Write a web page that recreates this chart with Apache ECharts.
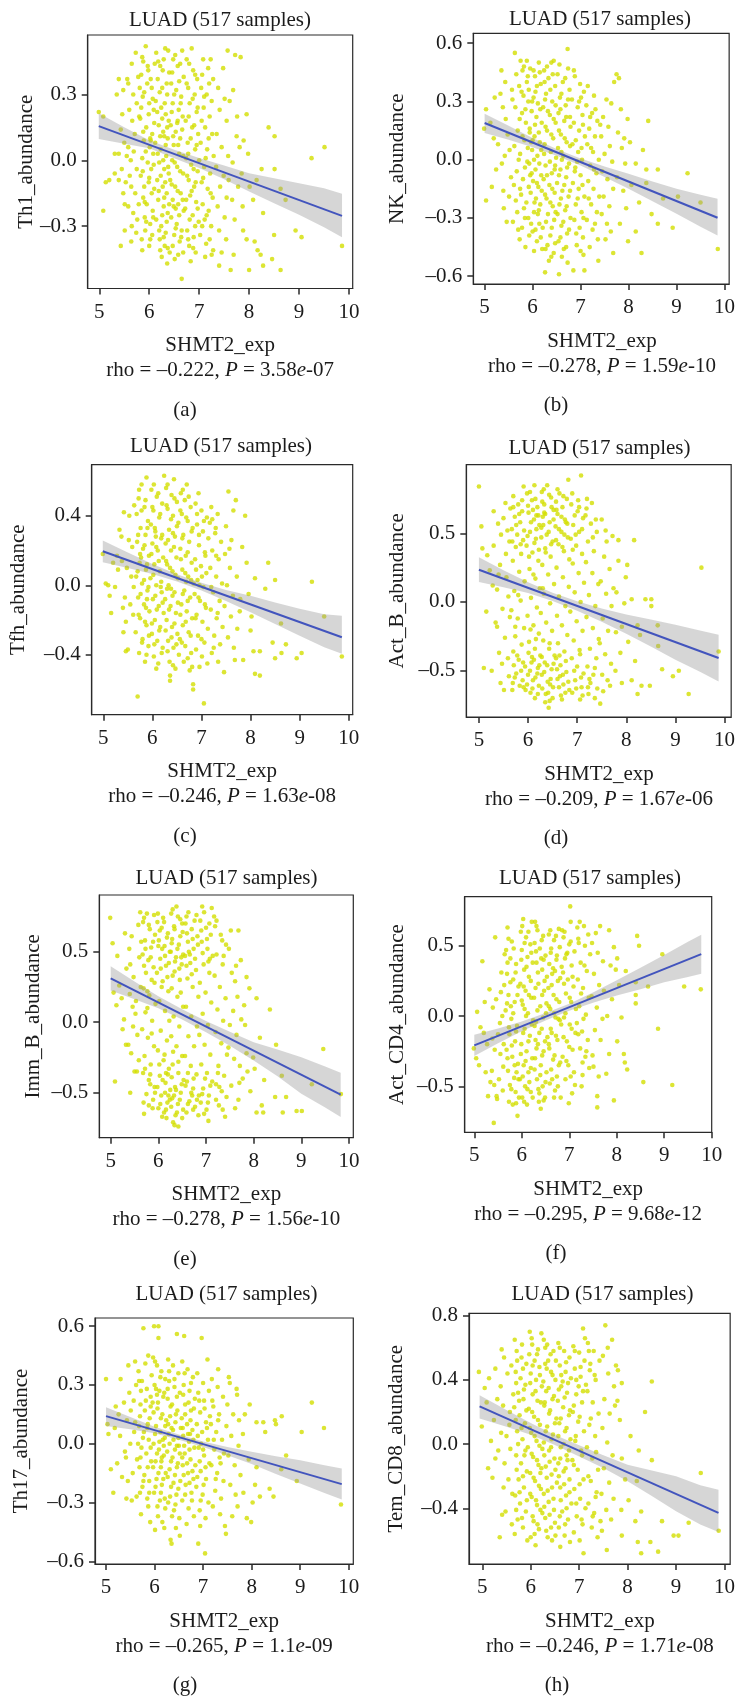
<!DOCTYPE html>
<html>
<head>
<meta charset="utf-8">
<script src="https://cdn.jsdelivr.net/npm/echarts@6/dist/echarts.min.js"></script>
<style>
  html, body { margin: 0; padding: 0; background: #ffffff; }
  #chart { width: 738px; height: 1700px; }
</style>
</head>
<body>
<div id="chart"></div>
<script>
// ---- shared labels ----
const sampleTitle = 'LUAD (517 samples)';
const xAxisName = 'SHMT2_exp';
const xTicks = [5, 6, 7, 8, 9, 10];

// ---- per-panel y tick values ----
const th1YTicks = [-0.3, 0, 0.3];
const nkYTicks = [-0.6, -0.3, 0, 0.3, 0.6];
const tfhYTicks = [-0.4, 0, 0.4];
const actBYTicks = [-0.5, 0, 0.5];
const immBYTicks = [-0.5, 0, 0.5];
const actCD4YTicks = [-0.5, 0, 0.5];
const th17YTicks = [-0.6, -0.3, 0, 0.3, 0.6];
const temCD8YTicks = [-0.4, 0, 0.4, 0.8];

// ---- y axis names, correlation statistics and panel tags ----
const yNames = ['Th1_abundance', 'NK_abundance', 'Tfh_abundance', 'Act_B_abundance',
                'Imm_B_abundance', 'Act_CD4_abundance', 'Th17_abundance', 'Tem_CD8_abundance'];
const rhoValues = ['–0.222', '–0.278', '–0.246', '–0.209', '–0.278', '–0.295', '–0.265', '–0.246'];
const pMantissa = ['3.58', '1.59', '1.63', '1.67', '1.56', '9.68', '1.1', '1.71'];
const pExponent = ['-07', '-10', '-08', '-06', '-10', '-12', '-09', '-08'];
const panelTags = ['(a)', '(b)', '(c)', '(d)', '(e)', '(f)', '(g)', '(h)'];

// ---- samples: [SHMT2 expression, abundance] ----
const th1Points = [
[4.99,0.22],[5.08,0.20],[5.08,-0.23],[5.13,-0.10],[5.20,-0.09],
[5.31,0.03],[5.39,0.03],[5.35,0.30],[5.39,0.37],[5.43,-0.39],[5.31,-0.06],[5.39,-0.09],[5.46,0.21],[5.48,0.32],[5.50,0.08],[5.48,-0.15],[5.51,-0.20],[5.51,-0.32],[5.45,-0.04],[5.53,-0.10],[5.43,0.14],
[5.56,0.37],[5.65,0.44],[5.73,0.49],[5.68,0.30],[5.60,0.23],[5.66,0.18],[5.71,0.12],[5.58,0.06],[5.69,0.04],[5.63,0.00],[5.75,-0.04],[5.61,-0.07],[5.64,-0.12],[5.72,-0.15],[5.58,-0.21],[5.68,-0.24],[5.76,-0.27],[5.65,-0.30],[5.74,-0.33],[5.64,-0.37],[5.58,0.35],[5.78,0.38],[5.75,0.26],[5.80,0.20],[5.79,-0.20],[5.55,0.02],
[5.93,0.52],[5.88,0.45],[5.98,0.41],[5.84,0.39],[5.96,0.35],[6.05,0.33],[5.87,0.29],[6.00,0.26],[6.09,0.23],[5.82,0.19],[5.94,0.15],[6.06,0.12],[5.89,0.09],[6.01,0.06],[6.08,0.03],[5.86,0.01],[5.97,-0.01],[6.04,-0.04],[5.83,-0.07],[5.99,-0.10],[6.10,-0.13],[5.88,-0.17],[5.95,-0.20],[6.07,-0.23],[5.91,-0.26],[6.02,-0.29],[5.92,-0.32],[6.06,-0.34],[5.85,-0.36],[6.00,-0.39],[6.11,0.44],[5.81,0.33],[6.03,0.09],[5.90,-0.12],
[6.32,0.51],[6.38,0.50],[6.14,0.49],[6.22,0.43],[6.29,0.46],[6.40,0.40],[6.17,0.37],[6.26,0.33],[6.36,0.30],[6.13,0.27],[6.24,0.24],[6.33,0.21],[6.39,0.18],[6.19,0.16],[6.28,0.13],[6.37,0.10],[6.12,0.08],[6.23,0.05],[6.34,0.02],[6.20,-0.01],[6.30,-0.04],[6.39,-0.06],[6.16,-0.09],[6.27,-0.12],[6.35,-0.15],[6.18,-0.18],[6.29,-0.21],[6.37,-0.24],[6.14,-0.27],[6.24,-0.30],[6.33,-0.33],[6.21,-0.36],[6.31,-0.39],[6.41,-0.42],[6.25,-0.44],[6.36,-0.47],[6.30,0.11],
[6.66,0.50],[6.48,0.46],[6.57,0.43],[6.69,0.38],[6.44,0.35],[6.54,0.32],[6.64,0.29],[6.47,0.26],[6.59,0.23],[6.67,0.20],[6.43,0.16],[6.53,0.13],[6.62,0.10],[6.49,0.07],[6.60,0.03],[6.46,0.00],[6.56,-0.03],[6.68,-0.06],[6.42,-0.09],[6.52,-0.12],[6.63,-0.15],[6.47,-0.18],[6.58,-0.20],[6.69,-0.23],[6.44,-0.26],[6.55,-0.29],[6.65,-0.32],[6.50,-0.34],[6.61,-0.37],[6.51,-0.45],[6.65,-0.54],[6.68,-0.42],[6.56,0.17],[6.53,-0.22],
[6.85,0.51],[6.75,0.46],[6.88,0.41],[6.96,0.37],[6.78,0.33],[6.91,0.30],[6.81,0.26],[6.95,0.22],[6.73,0.18],[6.86,0.15],[6.98,0.12],[6.77,0.08],[6.92,0.05],[6.74,0.01],[6.84,-0.02],[6.97,-0.05],[6.79,-0.09],[6.90,-0.12],[6.82,-0.16],[6.94,-0.19],[6.72,-0.22],[6.87,-0.25],[6.99,-0.28],[6.76,-0.32],[6.89,-0.35],[6.80,-0.39],[6.93,-0.42],[6.83,-0.46],[7.00,0.00],
[7.08,0.46],[7.18,0.42],[7.28,0.37],[7.04,0.33],[7.15,0.30],[7.25,0.27],[7.09,0.24],[7.21,0.20],[7.12,0.15],[7.26,0.12],[7.03,0.08],[7.16,0.05],[7.29,0.02],[7.10,-0.03],[7.22,-0.06],[7.05,-0.10],[7.17,-0.13],[7.27,-0.17],[7.07,-0.20],[7.19,-0.23],[7.11,-0.27],[7.24,-0.30],[7.02,-0.34],[7.14,-0.38],[7.28,-0.41],[7.12,-0.44],[7.25,-0.43],[7.23,0.46],
[7.48,0.42],[7.57,0.50],[7.38,0.33],[7.51,0.28],[7.41,0.23],[7.55,0.18],[7.35,0.12],[7.45,0.06],[7.58,0.02],[7.34,-0.03],[7.49,-0.07],[7.42,-0.12],[7.55,-0.17],[7.37,-0.21],[7.51,-0.26],[7.40,-0.32],[7.54,-0.36],[7.45,-0.42],[7.40,-0.48],[7.61,0.27],[7.59,-0.09],
[7.72,0.48],[7.83,0.47],[7.68,0.32],[7.75,0.11],[7.81,0.06],[7.67,-0.01],[7.85,-0.06],[7.78,-0.12],[7.66,-0.18],[7.87,-0.21],[7.71,-0.27],[7.69,-0.43],[7.63,-0.50],[7.88,-0.32],[7.76,0.20],[7.89,0.09],
[7.95,0.21],[7.95,-0.36],[8.11,-0.37],[8.17,-0.41],[8.23,-0.43],[8.00,-0.50],[8.25,-0.04],[8.28,-0.24],[8.28,-0.48],[8.01,-0.12],[8.08,-0.18],[7.98,0.03],[8.15,-0.09],[8.39,0.15],[8.51,0.11],[8.51,-0.04],[8.63,-0.13],[8.73,-0.18],[8.50,-0.34],[8.46,-0.45],[8.63,-0.50],[8.93,-0.32],[9.05,-0.35],[9.25,0.01],[9.51,0.06],[9.86,-0.39],
[5.86,0.47],[5.97,0.43],[6.03,0.37],[5.90,0.31],[6.07,0.28],[5.84,0.24],[5.99,0.21],[6.10,0.17],[5.88,0.13],[6.02,0.10],[5.93,0.04],[6.09,-0.02],[5.87,-0.05],[6.00,-0.08],[6.05,-0.15],[5.91,-0.19],[6.08,-0.26],[5.94,-0.28],[6.02,-0.36],[5.86,-0.41],
[6.18,0.45],[6.27,0.41],[6.35,0.35],[6.21,0.31],[6.31,0.26],[6.16,0.22],[6.26,0.19],[6.36,0.15],[6.22,0.11],[6.33,0.07],[6.17,0.03],[6.28,0.00],[6.38,-0.03],[6.23,-0.07],[6.32,-0.10],[6.19,-0.14],[6.30,-0.17],[6.40,-0.20],[6.26,-0.25],[6.35,-0.28],[6.20,-0.32],[6.29,-0.35],[6.37,-0.40],[6.22,-0.41],
[6.52,0.48],[6.62,0.44],[6.46,0.40],[6.60,0.36],[6.50,0.30],[6.63,0.26],[6.45,0.22],[6.57,0.18],[6.66,0.14],[6.48,0.11],[6.58,0.07],[6.68,0.02],[6.51,-0.01],[6.62,-0.05],[6.45,-0.11],[6.57,-0.14],[6.67,-0.18],[6.49,-0.21],[6.60,-0.25],[6.53,-0.31],[6.64,-0.35],[6.47,-0.39],[6.58,-0.43],
[6.80,0.44],[6.92,0.39],[6.75,0.35],[6.87,0.28],[6.97,0.24],[6.79,0.20],[6.90,0.16],[6.83,0.10],[6.95,0.07],[6.78,0.03],[6.89,-0.04],[6.76,-0.07],[6.93,-0.10],[6.85,-0.14],[6.74,-0.18],[6.97,-0.22],[6.81,-0.27],[6.92,-0.30],[6.78,-0.36],[6.88,-0.40],
[7.06,0.39],[7.20,0.35],[7.10,0.29],[7.05,0.18],[7.19,0.10],[7.13,0.01],[7.08,-0.08],[7.23,-0.15],[7.15,-0.25],[7.06,-0.30],[7.21,-0.36]
];

const nkPoints = [
[4.99,0.16],[5.03,0.26],[5.03,-0.21],[5.15,-0.14],[5.28,0.08],[5.21,0.32],[5.12,0.19],[5.24,-0.05],[5.19,0.11],
[5.35,0.46],[5.33,0.34],[5.43,0.40],[5.39,-0.16],[5.40,-0.25],[5.46,-0.32],[5.38,0.27],[5.48,0.13],[5.52,0.05],[5.36,-0.02],[5.55,-0.09],[5.44,0.21],[5.58,0.31],[5.51,-0.19],[5.57,0.36],[5.42,0.02],
[5.63,0.55],[5.75,0.51],[5.88,0.51],[5.59,-0.32],[5.70,-0.36],[5.66,0.44],[5.72,0.38],[5.81,0.33],[5.64,0.27],[5.78,0.24],[5.86,0.19],[5.69,0.15],[5.83,0.10],[5.62,0.07],[5.74,0.03],[5.89,-0.01],[5.67,-0.06],[5.80,-0.10],[5.61,-0.13],[5.76,-0.18],[5.87,-0.22],[5.68,-0.27],[5.84,-0.30],[5.73,-0.41],[5.85,-0.45],[5.79,0.46],[5.65,-0.21],[5.88,0.40],
[6.13,0.50],[5.95,0.47],[6.05,0.43],[6.17,0.39],[5.92,0.36],[6.02,0.32],[6.11,0.29],[5.98,0.25],[6.08,0.22],[6.19,0.19],[5.94,0.16],[6.04,0.12],[6.15,0.09],[5.99,0.05],[6.10,0.02],[5.93,-0.02],[6.06,-0.05],[6.18,-0.08],[6.01,-0.11],[6.12,-0.14],[5.96,-0.17],[6.07,-0.20],[6.16,-0.23],[6.03,-0.27],[5.91,-0.30],[6.14,-0.33],[6.00,-0.37],[6.09,-0.42],[6.20,-0.46],[5.97,0.09],[6.11,-0.28],[6.06,0.35],
[6.26,-0.58],[6.39,0.50],[6.44,0.51],[6.24,0.46],[6.33,0.42],[6.47,0.38],[6.28,0.34],[6.41,0.30],[6.22,0.27],[6.36,0.23],[6.48,0.19],[6.30,0.15],[6.43,0.11],[6.25,0.08],[6.38,0.04],[6.49,0.01],[6.27,-0.03],[6.40,-0.07],[6.23,-0.10],[6.35,-0.13],[6.46,-0.17],[6.29,-0.20],[6.42,-0.24],[6.32,-0.28],[6.45,-0.31],[6.21,-0.35],[6.37,-0.39],[6.31,-0.44],[6.44,-0.48],[6.34,-0.52],[6.26,0.31],[6.47,-0.03],
[6.55,-0.59],[6.73,0.57],[6.74,0.47],[6.73,-0.53],[6.52,0.44],[6.63,0.40],[6.77,0.36],[6.57,0.32],[6.69,0.28],[6.54,0.24],[6.66,0.20],[6.79,0.17],[6.59,0.13],[6.71,0.09],[6.53,0.06],[6.64,0.02],[6.76,-0.02],[6.58,-0.05],[6.70,-0.09],[6.51,-0.12],[6.62,-0.16],[6.75,-0.19],[6.56,-0.23],[6.68,-0.26],[6.79,-0.30],[6.60,-0.34],[6.72,-0.38],[6.54,-0.42],[6.65,-0.46],[6.61,0.00],[6.78,0.22],
[6.85,-0.57],[7.06,-0.49],[7.08,-0.57],[6.88,0.43],[6.99,0.39],[7.07,0.35],[6.82,0.31],[6.94,0.27],[7.04,0.23],[6.86,0.19],[6.97,0.15],[7.09,0.12],[6.83,0.08],[6.95,0.04],[7.03,0.00],[6.89,-0.04],[7.00,-0.08],[6.84,-0.12],[6.96,-0.15],[7.08,-0.19],[6.90,-0.23],[7.02,-0.27],[6.87,-0.31],[6.98,-0.35],[7.05,-0.40],[6.92,-0.44],[7.01,0.32],[6.93,-0.01],
[7.37,-0.52],[7.15,0.38],[7.28,0.33],[7.12,0.28],[7.24,0.24],[7.35,0.20],[7.18,0.16],[7.30,0.12],[7.14,0.08],[7.26,0.04],[7.38,0.00],[7.20,-0.03],[7.33,-0.07],[7.16,-0.11],[7.27,-0.15],[7.39,-0.19],[7.22,-0.23],[7.34,-0.27],[7.13,-0.31],[7.25,-0.36],[7.36,-0.41],[7.19,-0.45],[7.31,0.26],
[7.54,0.31],[7.64,0.29],[7.70,0.40],[7.47,0.22],[7.58,0.17],[7.43,0.12],[7.61,0.07],[7.50,0.03],[7.66,-0.01],[7.45,-0.06],[7.56,-0.10],[7.68,-0.15],[7.48,-0.19],[7.60,-0.24],[7.44,-0.28],[7.55,-0.33],[7.68,-0.48],[7.52,-0.41],[7.63,-0.37],[7.41,0.18],
[7.75,0.44],[7.80,0.42],[7.98,0.21],[7.82,-0.33],[7.99,-0.42],[7.78,0.14],[7.86,0.06],[7.93,-0.02],[7.76,-0.09],[7.89,-0.16],[8.03,0.09],[7.95,-0.25],[7.84,0.26],[8.06,-0.13],[7.91,0.11],
[8.15,-0.02],[8.37,-0.05],[8.61,-0.05],[8.37,-0.12],[8.72,-0.20],[9.03,-0.19],[9.23,-0.07],[9.50,-0.22],[8.92,-0.35],[8.61,-0.33],[8.27,-0.48],[8.15,-0.37],[9.86,-0.46],[8.41,0.20],[8.22,-0.22],[8.48,-0.28],[8.30,0.05],
[5.82,0.48],[5.90,0.43],[5.77,0.35],[5.91,0.30],[5.85,0.26],[5.73,0.21],[5.94,0.14],[5.79,0.12],[5.90,0.06],[5.71,0.00],[5.84,-0.04],[5.95,-0.08],[5.74,-0.15],[5.92,-0.14],[5.82,-0.25],[5.78,-0.35],[5.93,-0.39],
[6.02,0.46],[6.15,0.45],[6.09,0.38],[5.99,0.30],[6.16,0.26],[6.05,0.18],[6.13,0.14],[6.00,0.10],[6.18,0.05],[6.03,0.00],[6.14,-0.02],[5.98,-0.07],[6.09,-0.12],[6.19,-0.16],[6.04,-0.22],[6.13,-0.26],[5.97,-0.33],[6.06,-0.36],[6.17,-0.40],[6.03,-0.47],
[6.30,0.48],[6.42,0.44],[6.25,0.40],[6.37,0.36],[6.48,0.28],[6.32,0.25],[6.44,0.21],[6.27,0.17],[6.39,0.13],[6.24,0.03],[6.36,-0.01],[6.46,-0.05],[6.30,-0.08],[6.41,-0.15],[6.26,-0.18],[6.37,-0.22],[6.48,-0.27],[6.28,-0.32],[6.40,-0.35],[6.47,-0.43],[6.27,-0.46],[6.39,-0.50],
[6.56,0.49],[6.68,0.42],[6.60,0.34],[6.74,0.31],[6.58,0.26],[6.70,0.22],[6.55,0.15],[6.67,0.11],[6.78,0.07],[6.60,0.04],[6.72,-0.04],[6.55,-0.08],[6.66,-0.13],[6.78,-0.16],[6.59,-0.20],[6.71,-0.24],[6.52,-0.28],[6.64,-0.32],[6.76,-0.36],[6.58,-0.40],[6.70,-0.45],[6.61,-0.50],
[6.86,0.46],[6.97,0.30],[7.05,0.18],[6.90,0.10],[7.02,0.06],[6.88,-0.06],[7.04,-0.13],[6.94,-0.20],[7.06,-0.30],[6.91,-0.38],[7.00,-0.47],[7.20,0.22],[7.28,-0.05],[7.17,-0.20],[7.30,-0.33],[7.22,0.06]
];

const tfhPoints = [
[4.99,0.18],[5.05,0.01],[5.10,0.00],[5.16,-0.16],[5.24,-0.01],[5.33,0.32],[5.20,0.13],[5.28,0.17],[5.13,-0.06],[5.30,0.09],
[5.37,0.28],[5.41,-0.27],[5.46,-0.38],[5.50,-0.37],[5.42,0.42],[5.53,0.40],[5.38,0.14],[5.48,0.10],[5.57,0.05],[5.44,-0.07],[5.55,-0.11],[5.61,-0.17],[5.40,-0.13],[5.59,0.22],[5.63,0.46],[5.52,0.26],[5.46,-0.21],[5.62,-0.01],
[5.70,-0.64],[5.78,0.58],[5.88,0.62],[5.72,0.50],[5.84,0.45],[5.68,0.41],[5.91,0.37],[5.76,0.33],[5.86,0.29],[5.69,0.25],[5.81,0.21],[5.93,0.17],[5.74,0.13],[5.87,0.09],[5.67,0.05],[5.79,0.01],[5.90,-0.03],[5.71,-0.07],[5.83,-0.11],[5.94,-0.15],[5.75,-0.19],[5.88,-0.23],[5.66,-0.27],[5.80,-0.31],[5.92,-0.35],[5.73,-0.39],[5.85,-0.44],[5.77,0.16],[5.89,-0.08],
[6.24,0.63],[5.98,0.55],[6.09,0.51],[6.20,0.47],[6.02,0.43],[6.14,0.39],[5.97,0.35],[6.06,0.31],[6.18,0.27],[6.00,0.24],[6.11,0.20],[6.22,0.16],[6.04,0.12],[6.15,0.08],[5.96,0.04],[6.08,0.00],[6.19,-0.04],[6.01,-0.08],[6.13,-0.12],[6.23,-0.16],[6.05,-0.20],[6.16,-0.24],[5.99,-0.28],[6.10,-0.32],[6.21,-0.36],[6.03,-0.41],[6.12,-0.45],[6.07,0.28],[6.17,-0.01],
[6.44,0.61],[6.36,-0.52],[6.28,0.56],[6.39,0.52],[6.50,0.48],[6.31,0.44],[6.42,0.40],[6.53,0.36],[6.34,0.32],[6.46,0.28],[6.27,0.24],[6.38,0.20],[6.49,0.16],[6.30,0.12],[6.41,0.08],[6.52,0.04],[6.33,0.00],[6.45,-0.04],[6.26,-0.08],[6.37,-0.12],[6.48,-0.16],[6.29,-0.20],[6.40,-0.24],[6.51,-0.28],[6.32,-0.32],[6.43,-0.36],[6.54,-0.40],[6.35,-0.44],[6.47,-0.48],[6.42,0.30],[6.38,-0.02],
[6.70,0.58],[6.83,-0.57],[6.83,-0.60],[6.58,0.53],[6.66,0.49],[6.78,0.45],[6.60,0.41],[6.72,0.37],[6.82,0.33],[6.63,0.29],[6.75,0.25],[6.57,0.21],[6.68,0.17],[6.80,0.13],[6.61,0.09],[6.73,0.05],[6.84,0.01],[6.65,-0.03],[6.77,-0.07],[6.59,-0.11],[6.70,-0.15],[6.81,-0.19],[6.62,-0.23],[6.74,-0.27],[6.56,-0.31],[6.67,-0.35],[6.79,-0.39],[6.64,-0.44],[6.76,-0.49],[6.69,0.02],
[6.94,0.53],[7.05,-0.68],[6.88,0.47],[7.00,0.43],[7.11,0.39],[6.91,0.35],[7.03,0.31],[7.14,0.27],[6.95,0.23],[7.07,0.19],[6.87,0.15],[6.99,0.11],[7.10,0.07],[6.92,0.03],[7.04,-0.01],[6.86,-0.05],[6.97,-0.09],[7.09,-0.13],[6.90,-0.17],[7.02,-0.21],[7.13,-0.25],[6.93,-0.29],[7.06,-0.33],[6.89,-0.37],[7.01,-0.41],[7.12,-0.45],[6.96,0.00],
[7.20,0.45],[7.33,0.41],[7.17,0.36],[7.28,0.30],[7.40,0.25],[7.22,0.20],[7.35,0.15],[7.18,0.10],[7.30,0.05],[7.42,0.01],[7.24,-0.04],[7.37,-0.09],[7.19,-0.14],[7.31,-0.19],[7.43,-0.24],[7.26,-0.29],[7.38,-0.34],[7.21,-0.39],[7.34,-0.44],[7.29,0.33],
[7.55,0.54],[7.70,0.49],[7.65,0.43],[7.46,-0.50],[7.68,-0.43],[7.50,0.34],[7.61,0.26],[7.48,0.18],[7.58,0.10],[7.72,0.05],[7.52,0.00],[7.64,-0.06],[7.47,-0.12],[7.60,-0.18],[7.73,-0.25],[7.54,-0.30],[7.66,-0.36],[7.57,0.21],
[7.89,0.40],[7.92,0.13],[8.36,0.13],[8.50,0.03],[8.30,-0.02],[8.09,0.04],[7.96,-0.05],[8.02,-0.18],[7.79,-0.08],[8.62,-0.22],[8.45,-0.33],[8.72,-0.34],[8.63,-0.39],[8.50,-0.42],[8.19,-0.38],[8.09,-0.51],[8.19,-0.52],[8.94,-0.42],[9.04,-0.39],[9.25,0.02],[9.50,-0.18],[9.86,-0.41],[8.06,-0.38],[7.85,-0.43],[7.83,0.22],[8.00,-0.26],[7.78,-0.15],
[5.73,0.55],[5.86,0.49],[5.78,0.43],[5.90,0.33],[5.71,0.29],[5.84,0.23],[5.75,0.18],[5.89,0.12],[5.70,0.08],[5.83,0.03],[5.92,-0.01],[5.76,-0.05],[5.87,-0.13],[5.72,-0.17],[5.85,-0.21],[5.93,-0.29],[5.79,-0.33],[5.88,-0.40],
[6.03,0.58],[6.12,0.53],[6.00,0.45],[6.16,0.41],[6.05,0.33],[6.20,0.29],[6.08,0.22],[5.98,0.18],[6.13,0.14],[6.02,0.06],[6.18,0.02],[6.06,-0.06],[6.21,-0.10],[6.09,-0.14],[5.99,-0.22],[6.14,-0.26],[6.04,-0.34],[6.19,-0.39],[6.08,-0.48],
[6.31,0.58],[6.45,0.50],[6.29,0.46],[6.38,0.38],[6.50,0.34],[6.32,0.26],[6.44,0.22],[6.28,0.14],[6.36,0.10],[6.47,0.06],[6.30,-0.02],[6.41,-0.06],[6.52,-0.10],[6.34,-0.14],[6.45,-0.22],[6.27,-0.26],[6.39,-0.30],[6.49,-0.34],[6.31,-0.38],[6.42,-0.46],[6.36,-0.55],
[6.62,0.55],[6.74,0.51],[6.57,0.43],[6.69,0.39],[6.80,0.31],[6.61,0.27],[6.72,0.19],[6.58,0.15],[6.67,0.07],[6.79,0.03],[6.62,-0.05],[6.72,-0.09],[6.57,-0.17],[6.68,-0.21],[6.78,-0.29],[6.60,-0.33],[6.72,-0.42],[6.81,-0.47],
[6.91,0.41],[7.05,0.37],[6.95,0.29],[7.08,0.17],[6.89,0.09],[7.01,0.05],[6.94,-0.07],[7.07,-0.11],[6.88,-0.19],[7.00,-0.31],[6.96,-0.47],[7.22,0.38],[7.30,0.17],[7.20,-0.01],[7.33,-0.16],[7.25,-0.36]
];

const actBPoints = [
[5.00,0.84],[5.05,0.55],[5.07,0.39],[5.10,-0.48],[5.17,0.34],[5.26,-0.50],[5.30,0.41],[5.30,0.66],[5.34,-0.15],[5.22,0.23],[5.15,-0.07],[5.28,0.12],
[5.37,-0.18],[5.37,0.09],[5.41,-0.37],[5.44,-0.59],[5.47,-0.45],[5.51,-0.64],[5.54,0.72],[5.39,0.57],[5.45,0.49],[5.50,0.61],[5.58,0.52],[5.62,0.44],[5.43,0.27],[5.56,0.18],[5.60,0.04],[5.48,-0.05],[5.63,-0.11],[5.53,-0.26],[5.59,-0.41],[5.40,0.20],[5.61,-0.54],[5.55,0.35],[5.64,0.68],
[5.68,-0.64],[5.91,0.84],[5.95,-0.64],[5.70,0.77],[5.80,0.71],[5.88,0.66],[5.73,0.62],[5.84,0.58],[5.67,0.53],[5.78,0.49],[5.90,0.45],[5.75,0.40],[5.86,0.35],[5.69,0.30],[5.82,0.22],[5.93,0.15],[5.72,0.08],[5.85,0.01],[5.66,-0.06],[5.79,-0.12],[5.92,-0.19],[5.74,-0.25],[5.87,-0.31],[5.70,-0.36],[5.81,-0.42],[5.94,-0.47],[5.76,-0.52],[5.89,-0.57],[5.83,-0.61],[5.71,-0.46],[5.88,0.74],
[6.13,0.85],[6.14,-0.70],[5.98,0.79],[6.08,0.74],[6.19,0.69],[6.01,0.65],[6.12,0.60],[6.23,0.56],[6.04,0.51],[6.16,0.46],[5.97,0.41],[6.09,0.36],[6.21,0.30],[6.03,0.24],[6.15,0.17],[6.24,0.10],[6.06,0.03],[6.18,-0.04],[5.99,-0.10],[6.11,-0.17],[6.22,-0.23],[6.02,-0.29],[6.14,-0.34],[6.25,-0.39],[6.07,-0.44],[6.20,-0.48],[6.00,-0.53],[6.10,-0.57],[6.22,-0.61],[6.05,-0.66],[6.17,0.63],[6.08,-0.40],[6.19,-0.52],
[6.39,0.85],[6.42,-0.77],[6.28,0.80],[6.47,0.76],[6.33,0.71],[6.52,0.67],[6.30,0.62],[6.44,0.58],[6.27,0.54],[6.38,0.49],[6.50,0.44],[6.35,0.39],[6.46,0.33],[6.29,0.27],[6.41,0.20],[6.53,0.13],[6.32,0.06],[6.45,-0.01],[6.26,-0.08],[6.37,-0.15],[6.49,-0.21],[6.31,-0.28],[6.43,-0.34],[6.54,-0.39],[6.34,-0.44],[6.48,-0.49],[6.28,-0.53],[6.40,-0.58],[6.51,-0.62],[6.36,-0.67],[6.44,-0.72],[6.33,0.65],[6.46,-0.56],
[6.64,0.79],[6.82,0.89],[6.79,0.75],[6.57,0.73],[6.70,0.69],[6.60,0.64],[6.75,0.60],[6.56,0.55],[6.68,0.51],[6.81,0.47],[6.62,0.42],[6.73,0.37],[6.84,0.31],[6.58,0.25],[6.71,0.18],[6.83,0.11],[6.63,0.04],[6.76,-0.03],[6.59,-0.10],[6.69,-0.17],[6.80,-0.24],[6.61,-0.30],[6.74,-0.36],[6.57,-0.41],[6.66,-0.46],[6.78,-0.51],[6.60,-0.56],[6.72,-0.60],[6.84,-0.64],[6.67,-0.68],[6.77,0.58],[6.65,-0.54],
[7.08,0.92],[7.06,-0.71],[6.88,0.71],[7.01,0.66],[7.12,0.61],[6.92,0.56],[7.04,0.51],[6.87,0.46],[6.98,0.41],[7.10,0.35],[6.91,0.28],[7.03,0.21],[7.14,0.14],[6.95,0.07],[7.07,0.00],[6.86,-0.07],[6.99,-0.14],[7.11,-0.21],[6.93,-0.28],[7.05,-0.35],[6.89,-0.41],[7.00,-0.47],[7.13,-0.52],[6.96,-0.57],[7.09,-0.62],[6.90,-0.66],[7.02,0.74],
[7.20,0.75],[7.30,0.72],[7.36,-0.70],[7.17,0.63],[7.28,0.57],[7.40,0.51],[7.22,0.44],[7.34,0.37],[7.18,0.29],[7.31,0.21],[7.43,0.13],[7.24,0.05],[7.37,-0.03],[7.19,-0.11],[7.32,-0.19],[7.44,-0.27],[7.26,-0.34],[7.39,-0.41],[7.21,-0.47],[7.33,-0.53],[7.27,-0.59],[7.41,-0.63],[7.23,-0.67],[7.38,0.60],
[7.47,-0.74],[7.50,0.60],[7.60,0.44],[7.72,0.48],[7.53,-0.65],[7.67,-0.61],[7.55,0.33],[7.66,0.24],[7.48,0.15],[7.59,0.06],[7.70,-0.03],[7.52,-0.12],[7.63,-0.21],[7.46,-0.30],[7.57,-0.38],[7.69,-0.45],[7.51,-0.53],[7.62,-0.57],[7.74,0.10],[7.58,0.52],
[7.84,0.45],[8.16,0.45],[7.84,0.30],[7.99,0.18],[7.80,0.07],[8.11,0.02],[8.39,0.02],[8.51,0.02],[8.51,-0.03],[7.96,-0.01],[7.91,-0.18],[8.23,-0.17],[8.28,-0.24],[8.64,-0.17],[8.65,-0.32],[8.04,-0.29],[8.18,-0.43],[7.78,-0.50],[7.91,-0.59],[8.11,-0.57],[8.31,-0.61],[8.23,-0.67],[8.48,-0.61],[8.73,-0.49],[8.95,-0.54],[9.07,-0.50],[9.27,-0.67],[9.53,0.25],[9.88,-0.36],[7.88,-0.37],[8.02,0.27],[7.79,-0.22],
[5.70,0.69],[5.82,0.64],[5.76,0.56],[5.92,0.52],[5.68,0.44],[5.85,0.42],[5.78,-0.39],[5.90,-0.44],[5.73,-0.55],[5.86,-0.50],[5.69,-0.59],[5.91,-0.62],[5.80,0.05],[5.74,-0.18],
[6.04,0.80],[6.15,0.75],[6.00,0.70],[6.10,0.67],[6.21,0.63],[6.06,0.58],[6.17,0.53],[5.99,0.48],[6.13,0.43],[6.22,0.38],[6.02,0.33],[6.11,0.20],[6.05,-0.20],[6.16,-0.27],[6.01,-0.37],[6.12,-0.42],[6.23,-0.46],[6.04,-0.50],[6.15,-0.55],[5.98,-0.60],[6.09,-0.63],[6.20,-0.67],
[6.32,0.82],[6.43,0.78],[6.29,0.73],[6.48,0.69],[6.35,0.64],[6.52,0.60],[6.31,0.56],[6.42,0.51],[6.27,0.47],[6.47,0.42],[6.36,0.36],[6.30,0.10],[6.44,-0.30],[6.28,-0.40],[6.39,-0.46],[6.52,-0.45],[6.33,-0.51],[6.45,-0.60],[6.29,-0.63],[6.41,-0.66],[6.50,-0.70],[6.35,-0.73],
[6.60,0.82],[6.72,0.77],[6.58,0.67],[6.68,0.62],[6.80,0.57],[6.63,0.53],[6.74,0.49],[6.57,0.45],[6.70,0.40],[6.64,-0.39],[6.77,-0.43],[6.59,-0.49],[6.71,-0.53],[6.82,-0.58],[6.63,-0.62],[6.76,-0.66],[6.69,-0.71],
[6.90,0.79],[7.04,0.69],[6.95,0.63],[7.10,0.53],[6.97,0.49],[6.91,0.38],[7.06,-0.38],[6.94,-0.50],[7.08,-0.55],[6.98,-0.63],[7.11,-0.68],[7.19,0.68],[7.32,0.47],[7.25,-0.56],[7.36,-0.48],[7.22,-0.62]
];

const immBPoints = [
[4.99,0.74],[5.04,0.56],[5.06,0.21],[5.09,-0.42],[5.14,0.47],[5.23,0.17],[5.28,0.02],[5.30,0.63],[5.32,-0.16],[5.18,0.26],[5.25,-0.05],[5.12,0.12],[5.33,0.38],
[5.37,-0.16],[5.41,-0.50],[5.41,0.41],[5.44,0.61],[5.48,0.32],[5.50,-0.35],[5.55,-0.35],[5.62,0.78],[5.39,0.52],[5.46,0.11],[5.52,0.06],[5.58,0.69],[5.60,0.46],[5.43,-0.22],[5.56,-0.09],[5.63,0.25],[5.53,0.15],[5.59,-0.27],[5.47,-0.03],[5.64,0.57],[5.40,0.20],
[5.70,-0.65],[5.76,0.77],[5.91,0.76],[5.88,-0.61],[5.68,0.71],[5.82,0.66],[5.93,0.62],[5.72,0.58],[5.85,0.53],[5.67,0.48],[5.79,0.44],[5.90,0.39],[5.74,0.35],[5.86,0.30],[5.69,0.24],[5.81,0.19],[5.94,0.13],[5.73,0.07],[5.87,0.01],[5.66,-0.05],[5.78,-0.11],[5.91,-0.17],[5.71,-0.24],[5.84,-0.30],[5.68,-0.36],[5.80,-0.41],[5.92,-0.46],[5.75,-0.51],[5.89,-0.55],[5.83,-0.37],[5.77,0.10],
[6.10,0.74],[6.17,-0.68],[5.98,0.71],[6.07,0.67],[6.20,0.63],[6.01,0.58],[6.13,0.54],[6.24,0.50],[6.04,0.45],[6.16,0.40],[5.97,0.35],[6.09,0.29],[6.21,0.22],[6.02,0.15],[6.14,0.08],[6.23,0.01],[6.05,-0.06],[6.18,-0.13],[5.99,-0.20],[6.11,-0.27],[6.22,-0.33],[6.03,-0.38],[6.15,-0.43],[6.25,-0.48],[6.06,-0.52],[6.19,-0.57],[6.00,-0.61],[6.12,-0.64],[6.08,0.52],[6.16,-0.36],[6.21,-0.52],
[6.38,0.82],[6.42,-0.74],[6.31,-0.71],[6.27,0.77],[6.46,0.73],[6.33,0.68],[6.51,0.64],[6.29,0.59],[6.43,0.55],[6.26,0.50],[6.37,0.46],[6.49,0.41],[6.34,0.36],[6.45,0.30],[6.28,0.24],[6.40,0.18],[6.52,0.11],[6.32,0.04],[6.44,-0.03],[6.27,-0.10],[6.38,-0.17],[6.50,-0.24],[6.30,-0.30],[6.42,-0.36],[6.53,-0.41],[6.35,-0.46],[6.47,-0.50],[6.29,-0.54],[6.41,-0.58],[6.52,-0.62],[6.36,-0.66],[6.48,0.46],[6.33,-0.52],
[6.59,0.75],[6.80,0.76],[6.57,0.70],[6.70,0.66],[6.82,0.61],[6.62,0.57],[6.74,0.52],[6.56,0.47],[6.67,0.42],[6.79,0.37],[6.61,0.31],[6.72,0.25],[6.84,0.18],[6.58,0.11],[6.69,0.04],[6.81,-0.03],[6.63,-0.10],[6.75,-0.17],[6.56,-0.24],[6.68,-0.31],[6.80,-0.37],[6.60,-0.42],[6.73,-0.47],[6.85,-0.52],[6.65,-0.56],[6.77,-0.60],[6.59,-0.64],[6.71,-0.52],[6.66,0.48],
[6.92,0.82],[7.12,0.81],[7.05,-0.70],[6.88,0.72],[7.00,0.67],[7.10,0.62],[6.91,0.57],[7.03,0.52],[7.14,0.47],[6.95,0.41],[7.07,0.35],[6.87,0.28],[6.99,0.21],[7.11,0.14],[6.93,0.06],[7.04,-0.02],[6.86,-0.09],[6.97,-0.16],[7.09,-0.23],[6.90,-0.30],[7.02,-0.36],[7.13,-0.42],[6.94,-0.47],[7.06,-0.52],[6.89,-0.57],[7.01,-0.62],[7.08,0.45],
[7.17,0.75],[7.40,-0.67],[7.43,-0.53],[7.19,0.68],[7.31,0.62],[7.42,0.55],[7.22,0.48],[7.35,0.41],[7.18,0.33],[7.29,0.25],[7.41,0.17],[7.24,0.09],[7.36,0.01],[7.20,-0.07],[7.32,-0.15],[7.44,-0.23],[7.26,-0.31],[7.38,-0.38],[7.21,-0.44],[7.33,-0.49],[7.27,-0.59],[7.37,0.47],[7.25,-0.36],
[7.52,0.65],[7.68,0.65],[7.54,0.35],[7.61,0.29],[7.73,0.44],[7.66,0.18],[7.71,-0.31],[7.68,-0.55],[7.61,-0.61],[7.48,0.52],[7.57,0.08],[7.50,-0.02],[7.64,-0.09],[7.47,-0.18],[7.59,-0.26],[7.70,-0.43],[7.53,-0.45],[7.63,0.40],[7.74,0.02],
[7.85,0.32],[7.82,-0.02],[8.06,0.17],[8.13,-0.11],[8.34,0.09],[7.85,-0.22],[7.99,-0.25],[7.87,-0.35],[7.77,-0.40],[8.22,-0.41],[8.17,-0.59],[8.20,-0.64],[8.06,-0.64],[8.47,-0.16],[8.59,-0.38],[8.45,-0.53],[8.61,-0.64],[8.68,-0.53],[8.90,-0.63],[9.01,-0.63],[9.22,-0.44],[9.46,-0.19],[9.83,-0.51],[7.93,-0.49],[7.80,0.12],[8.02,-0.33],[7.91,0.24],
[5.70,0.74],[5.80,0.69],[5.89,0.57],[5.73,0.52],[5.84,0.46],[5.70,0.40],[5.92,0.28],[5.77,0.22],[5.86,-0.08],[5.72,-0.33],[5.83,-0.44],[5.93,-0.50],[5.69,-0.57],[5.80,-0.59],
[5.99,0.77],[6.12,0.71],[6.03,0.65],[6.18,0.60],[6.00,0.54],[6.14,0.47],[6.22,0.42],[6.05,0.38],[6.19,0.32],[6.07,0.25],[6.13,-0.23],[6.02,-0.30],[6.20,-0.37],[6.09,-0.41],[5.98,-0.46],[6.14,-0.50],[6.24,-0.55],[6.04,-0.58],[6.16,-0.62],[6.08,-0.67],
[6.30,0.80],[6.41,0.75],[6.50,0.70],[6.34,0.66],[6.46,0.61],[6.28,0.56],[6.40,0.52],[6.52,0.48],[6.35,0.43],[6.44,0.38],[6.30,0.33],[6.47,0.21],[6.31,-0.21],[6.42,-0.28],[6.28,-0.39],[6.49,-0.44],[6.37,-0.48],[6.45,-0.55],[6.27,-0.60],[6.39,-0.64],[6.50,-0.68],[6.34,-0.73],
[6.63,0.78],[6.76,0.72],[6.60,0.63],[6.72,0.59],[6.83,0.55],[6.64,0.50],[6.77,0.45],[6.59,0.40],[6.70,0.34],[6.62,-0.36],[6.74,-0.40],[6.57,-0.45],[6.69,-0.50],[6.81,-0.55],[6.62,-0.58],[6.73,-0.62],[6.84,-0.66],
[6.96,0.78],[7.07,0.70],[6.90,0.65],[7.02,0.59],[6.93,0.49],[7.05,0.43],[6.98,-0.40],[7.09,-0.45],[6.92,-0.51],[7.04,-0.57],[6.96,-0.65],[7.22,0.72],[7.34,0.58],[7.28,-0.46],[7.21,-0.55],[7.35,-0.62]
];

const actCD4Points = [
[4.99,-0.23],[5.04,-0.30],[5.06,0.03],[5.10,-0.35],[5.17,0.39],[5.24,-0.40],[5.29,-0.57],[5.32,0.19],[5.20,-0.12],[5.27,-0.20],[5.13,-0.08],[5.34,-0.47],[5.22,0.10],
[5.39,0.06],[5.41,-0.76],[5.44,0.56],[5.48,-0.59],[5.52,-0.45],[5.55,-0.27],[5.59,0.00],[5.63,0.22],[5.37,-0.39],[5.42,-0.49],[5.46,0.12],[5.50,-0.13],[5.57,0.31],[5.61,-0.36],[5.43,-0.24],[5.54,-0.05],[5.60,-0.53],[5.64,0.44],[5.47,-0.57],[5.56,0.17],[5.38,-0.16],[5.62,-0.20],
[5.70,0.63],[5.73,-0.61],[5.79,0.53],[5.91,-0.71],[5.67,0.47],[5.76,0.41],[5.88,0.37],[5.69,0.30],[5.82,0.26],[5.93,0.21],[5.72,0.15],[5.85,0.10],[5.66,0.04],[5.78,-0.02],[5.90,-0.07],[5.74,-0.13],[5.86,-0.18],[5.68,-0.24],[5.80,-0.29],[5.92,-0.34],[5.71,-0.39],[5.84,-0.44],[5.75,-0.49],[5.87,-0.54],[5.81,-0.63],[5.94,-0.58],[5.77,0.07],[5.89,-0.40],
[6.03,0.69],[6.21,0.67],[5.98,0.60],[6.09,0.56],[6.18,0.51],[6.00,0.47],[6.12,0.42],[6.23,0.38],[6.05,0.33],[6.15,0.28],[5.97,0.23],[6.08,0.18],[6.20,0.13],[6.02,0.08],[6.13,0.02],[6.24,-0.03],[6.06,-0.09],[6.17,-0.14],[5.99,-0.20],[6.10,-0.25],[6.22,-0.30],[6.04,-0.35],[6.14,-0.40],[5.96,-0.45],[6.07,-0.50],[6.19,-0.54],[6.01,-0.58],[6.11,-0.63],[6.16,-0.47],[6.06,0.05],
[6.28,0.67],[6.36,-0.61],[6.40,-0.66],[6.33,0.61],[6.45,0.57],[6.27,0.52],[6.38,0.48],[6.50,0.43],[6.31,0.38],[6.43,0.33],[6.53,0.28],[6.35,0.23],[6.47,0.18],[6.26,0.13],[6.39,0.07],[6.51,0.02],[6.30,-0.04],[6.42,-0.09],[6.54,-0.15],[6.34,-0.20],[6.46,-0.25],[6.28,-0.30],[6.40,-0.35],[6.52,-0.40],[6.32,-0.45],[6.44,-0.50],[6.37,-0.55],[6.49,-0.58],[6.41,0.41],[6.29,-0.17],
[6.78,0.62],[6.85,0.61],[6.57,0.58],[6.68,0.54],[6.80,0.49],[6.61,0.45],[6.73,0.40],[6.84,0.35],[6.64,0.30],[6.76,0.25],[6.56,0.20],[6.67,0.15],[6.79,0.10],[6.60,0.05],[6.71,-0.01],[6.83,-0.06],[6.63,-0.12],[6.75,-0.17],[6.58,-0.23],[6.69,-0.28],[6.81,-0.33],[6.62,-0.38],[6.74,-0.43],[6.59,-0.48],[6.70,-0.53],[6.82,-0.58],[6.66,0.34],[6.77,-0.02],
[7.02,0.78],[7.03,0.67],[6.99,-0.62],[7.12,-0.49],[6.88,0.56],[7.00,0.51],[7.11,0.46],[6.91,0.41],[7.05,0.36],[6.87,0.31],[6.97,0.26],[7.09,0.21],[6.93,0.16],[7.04,0.10],[7.14,0.05],[6.89,-0.01],[7.01,-0.06],[7.13,-0.12],[6.95,-0.18],[7.07,-0.24],[6.86,-0.29],[6.98,-0.35],[7.10,-0.40],[6.92,-0.45],[7.06,-0.55],[6.96,0.45],
[7.22,0.67],[7.17,0.63],[7.31,0.64],[7.28,-0.42],[7.42,-0.37],[7.19,0.55],[7.33,0.50],[7.44,0.44],[7.24,0.38],[7.37,0.32],[7.18,0.26],[7.29,0.20],[7.41,0.13],[7.21,0.07],[7.35,0.01],[7.16,-0.05],[7.27,-0.11],[7.39,-0.17],[7.23,-0.23],[7.34,-0.29],[7.26,-0.50],[7.40,0.58],[7.30,-0.02],
[7.56,0.59],[7.65,0.64],[7.59,-0.65],[7.59,-0.57],[7.49,-0.28],[7.48,0.52],[7.60,0.45],[7.71,0.39],[7.52,0.30],[7.63,0.22],[7.47,0.14],[7.58,0.06],[7.70,-0.02],[7.54,-0.10],[7.66,-0.17],[7.51,-0.36],[7.73,0.18],[7.62,-0.43],
[7.84,0.61],[7.94,0.49],[8.01,0.41],[7.98,0.33],[7.87,0.36],[8.19,0.32],[8.43,0.57],[8.47,0.50],[8.66,0.21],[8.40,0.24],[8.40,0.15],[8.15,-0.27],[8.17,-0.33],[8.22,-0.38],[7.94,-0.60],[7.84,-0.27],[8.01,-0.18],[7.80,0.00],[8.10,-0.01],[8.40,0.09],[8.87,-0.09],[8.56,-0.47],[8.96,0.44],[9.17,-0.49],[9.42,0.21],[9.77,0.19],[7.90,0.12],[8.05,0.22],[7.78,-0.41],
[5.72,0.55],[5.83,0.48],[5.70,0.38],[5.87,0.31],[5.76,0.24],[5.91,0.15],[5.69,0.09],[5.82,0.02],[5.73,-0.08],[5.88,-0.11],[5.79,-0.21],[5.70,-0.30],[5.85,-0.35],[5.93,-0.45],[5.78,-0.52],[5.88,-0.62],
[6.01,0.64],[6.14,0.60],[6.06,0.52],[6.20,0.45],[5.99,0.40],[6.10,0.35],[6.19,0.25],[6.04,0.21],[6.15,0.15],[6.00,0.11],[6.09,0.00],[6.21,-0.06],[6.03,-0.12],[6.14,-0.18],[5.98,-0.27],[6.08,-0.32],[6.19,-0.37],[6.02,-0.43],[6.12,-0.52],[6.23,-0.58],[6.05,-0.61],
[6.31,0.64],[6.42,0.54],[6.30,0.46],[6.46,0.40],[6.34,0.31],[6.48,0.25],[6.29,0.20],[6.43,0.15],[6.52,0.09],[6.33,0.04],[6.45,-0.01],[6.27,-0.07],[6.37,-0.12],[6.49,-0.18],[6.31,-0.23],[6.43,-0.28],[6.27,-0.38],[6.39,-0.42],[6.50,-0.47],[6.35,-0.52],[6.46,-0.60],
[6.60,0.61],[6.72,0.57],[6.62,0.48],[6.74,0.43],[6.58,0.37],[6.70,0.32],[6.81,0.27],[6.63,0.22],[6.73,0.12],[6.57,0.07],[6.68,0.02],[6.80,-0.03],[6.61,-0.09],[6.72,-0.14],[6.57,-0.20],[6.66,-0.31],[6.78,-0.35],[6.64,-0.45],[6.76,-0.50],[6.68,-0.58],
[6.90,0.60],[7.03,0.53],[6.94,0.44],[7.07,0.28],[6.89,0.23],[7.01,0.13],[6.92,0.02],[7.05,-0.09],[6.88,-0.15],[7.00,-0.22],[6.94,-0.32],[7.03,-0.43],[7.20,0.52],[7.32,0.36],[7.25,0.16],[7.19,-0.13],[7.36,-0.25],[7.28,-0.33]
];

const th17Points = [
[5.00,0.33],[5.03,0.10],[5.05,0.05],[5.10,-0.13],[5.15,-0.25],[5.23,-0.10],[5.30,0.33],[5.29,0.04],[5.20,0.19],[5.26,0.15],[5.33,-0.17],[5.18,0.08],
[5.39,-0.04],[5.41,-0.07],[5.46,0.40],[5.48,0.26],[5.55,-0.15],[5.60,0.42],[5.63,-0.27],[5.37,0.21],[5.43,0.12],[5.51,0.17],[5.58,0.06],[5.62,0.30],[5.45,-0.19],[5.53,-0.29],[5.57,0.22],[5.64,-0.08],[5.50,0.00],[5.60,0.11],[5.42,-0.28],
[5.70,-0.25],[5.77,0.59],[5.87,0.45],[5.87,-0.32],[5.67,0.37],[5.74,0.32],[5.84,0.28],[5.92,0.24],[5.71,0.20],[5.80,0.17],[5.90,0.13],[5.68,0.09],[5.78,0.06],[5.88,0.02],[5.73,-0.02],[5.83,-0.05],[5.93,-0.09],[5.69,-0.12],[5.79,-0.16],[5.89,-0.19],[5.75,-0.22],[5.85,-0.28],[5.72,-0.36],[5.91,-0.40],[5.81,0.41],[5.94,0.35],[5.66,0.00],[5.86,0.10],
[5.99,0.60],[6.08,0.60],[6.08,0.54],[6.01,-0.44],[6.20,-0.43],[5.97,0.44],[6.05,0.40],[6.14,0.37],[6.22,0.33],[6.00,0.30],[6.10,0.27],[6.18,0.24],[5.96,0.21],[6.06,0.18],[6.16,0.15],[6.24,0.12],[6.03,0.09],[6.12,0.06],[6.21,0.03],[5.98,0.00],[6.09,-0.03],[6.19,-0.06],[6.02,-0.09],[6.13,-0.12],[6.23,-0.15],[6.04,-0.18],[6.15,-0.21],[5.99,-0.25],[6.11,-0.29],[6.22,-0.33],[6.07,-0.37],[6.17,0.02],[6.05,0.25],[6.14,-0.09],
[6.33,-0.49],[6.35,-0.51],[6.46,0.56],[6.52,-0.47],[6.28,0.43],[6.38,0.40],[6.49,0.36],[6.30,0.32],[6.41,0.29],[6.52,0.26],[6.27,0.23],[6.36,0.20],[6.47,0.17],[6.32,0.14],[6.43,0.11],[6.54,0.08],[6.29,0.05],[6.39,0.02],[6.50,-0.01],[6.26,-0.04],[6.37,-0.07],[6.48,-0.10],[6.31,-0.13],[6.42,-0.16],[6.53,-0.19],[6.34,-0.22],[6.45,-0.26],[6.28,-0.30],[6.40,-0.34],[6.51,-0.38],[6.44,-0.43],[6.35,0.08],[6.46,-0.01],
[6.61,0.55],[6.57,0.42],[6.68,0.38],[6.79,0.34],[6.60,0.30],[6.72,0.27],[6.83,0.23],[6.63,0.20],[6.75,0.17],[6.56,0.13],[6.67,0.10],[6.78,0.07],[6.59,0.04],[6.71,0.01],[6.82,-0.02],[6.62,-0.05],[6.74,-0.08],[6.58,-0.11],[6.69,-0.15],[6.80,-0.18],[6.64,-0.21],[6.76,-0.25],[6.57,-0.29],[6.70,-0.33],[6.81,-0.37],[6.66,-0.41],[6.73,0.05],[6.84,-0.11],
[6.97,0.54],[6.90,-0.51],[6.94,-0.42],[7.04,-0.56],[7.09,0.43],[6.88,0.36],[7.00,0.31],[7.12,0.27],[6.92,0.22],[7.03,0.18],[7.14,0.14],[6.87,0.10],[6.98,0.06],[7.10,0.02],[6.91,-0.02],[7.02,-0.06],[7.13,-0.10],[6.95,-0.14],[7.06,-0.18],[6.86,-0.22],[6.99,-0.26],[7.11,-0.30],[6.93,-0.34],[7.05,-0.38],[7.08,0.08],[6.96,0.00],
[7.35,-0.36],[7.45,-0.42],[7.18,0.33],[7.30,0.29],[7.41,0.24],[7.21,0.19],[7.33,0.15],[7.16,0.10],[7.27,0.06],[7.39,0.02],[7.23,-0.03],[7.34,-0.07],[7.17,-0.11],[7.29,-0.15],[7.42,-0.19],[7.25,-0.24],[7.37,-0.28],[7.20,-0.32],[7.31,0.38],[7.43,-0.05],
[7.47,-0.46],[7.55,0.31],[7.69,0.28],[7.70,0.25],[7.71,-0.32],[7.50,0.20],[7.62,0.15],[7.48,0.09],[7.58,0.04],[7.73,-0.01],[7.52,-0.06],[7.65,-0.11],[7.77,-0.16],[7.56,-0.21],[7.67,-0.26],[7.60,-0.37],[7.74,0.12],[7.53,0.34],
[7.99,-0.40],[7.90,-0.38],[7.86,0.15],[8.10,0.11],[8.24,0.11],[8.28,0.06],[8.10,-0.12],[8.37,-0.23],[8.17,-0.27],[8.07,-0.21],[7.83,-0.25],[8.45,-0.27],[8.48,0.12],[8.50,0.10],[8.62,0.14],[8.71,-0.06],[8.61,-0.13],[8.93,-0.19],[9.03,0.06],[9.24,0.21],[9.49,0.08],[9.84,-0.31],[7.94,-0.08],[7.82,0.05],[8.02,-0.30],[7.96,0.20],
[5.72,0.27],[5.82,0.22],[5.70,0.14],[5.85,0.08],[5.76,0.03],[5.92,-0.02],[5.71,-0.07],[5.86,-0.12],[5.77,-0.19],[5.89,-0.25],[5.68,0.32],[5.92,0.19],
[6.01,0.42],[6.12,0.34],[6.03,0.28],[6.20,0.26],[6.07,0.21],[5.98,0.16],[6.13,0.13],[6.22,0.09],[6.01,0.05],[6.10,0.01],[6.19,-0.01],[6.05,-0.05],[6.15,-0.07],[5.97,-0.12],[6.08,-0.15],[6.18,-0.18],[6.02,-0.22],[6.13,-0.25],[6.21,-0.28],[6.06,-0.32],[6.16,-0.40],
[6.30,0.37],[6.41,0.33],[6.27,0.28],[6.46,0.24],[6.33,0.19],[6.44,0.15],[6.28,0.10],[6.38,0.07],[6.49,0.03],[6.31,0.00],[6.42,-0.03],[6.52,-0.05],[6.34,-0.09],[6.46,-0.12],[6.27,-0.17],[6.39,-0.20],[6.49,-0.23],[6.32,-0.27],[6.43,-0.31],[6.36,-0.37],
[6.62,0.36],[6.75,0.31],[6.59,0.25],[6.70,0.21],[6.81,0.18],[6.63,0.15],[6.74,0.12],[6.58,0.08],[6.69,0.05],[6.80,0.02],[6.61,-0.01],[6.72,-0.03],[6.57,-0.07],[6.67,-0.10],[6.78,-0.14],[6.60,-0.16],[6.72,-0.20],[6.63,-0.26],[6.77,-0.29],
[6.90,0.26],[7.02,0.22],[6.94,0.16],[7.06,0.11],[6.89,0.04],[7.00,-0.03],[6.93,-0.09],[7.05,-0.12],[6.88,-0.17],[7.01,-0.21],[6.95,-0.29],[7.19,0.22],[7.31,0.12],[7.22,0.02],[7.36,-0.10],[7.26,-0.18]
];

const temCD8Points = [
[4.93,0.45],[4.99,0.11],[5.05,0.35],[5.12,-0.15],[5.24,0.15],[5.27,0.47],[5.27,-0.09],[5.09,0.26],[5.18,0.02],[5.31,0.28],[5.21,-0.21],[5.14,0.41],[5.33,-0.04],
[5.36,-0.58],[5.40,0.59],[5.41,-0.44],[5.45,0.54],[5.48,-0.42],[5.38,0.36],[5.43,0.24],[5.52,0.44],[5.56,0.12],[5.60,0.49],[5.46,-0.12],[5.54,-0.22],[5.62,-0.31],[5.50,0.05],[5.58,-0.03],[5.64,0.31],[5.44,-0.27],[5.57,0.20],[5.39,0.07],[5.61,-0.50],
[5.67,0.65],[5.67,-0.56],[5.71,0.58],[5.81,0.54],[5.91,0.50],[5.69,0.45],[5.79,0.41],[5.89,0.37],[5.74,0.32],[5.85,0.28],[5.66,0.23],[5.77,0.18],[5.88,0.13],[5.72,0.08],[5.83,0.03],[5.94,-0.02],[5.70,-0.07],[5.80,-0.12],[5.92,-0.17],[5.75,-0.22],[5.86,-0.27],[5.68,-0.32],[5.78,-0.37],[5.90,-0.42],[5.73,-0.47],[5.84,-0.52],[5.93,-0.60],[5.82,0.62],[5.87,-0.07],
[5.98,0.70],[6.03,0.62],[6.22,0.69],[5.97,0.56],[6.08,0.52],[6.18,0.48],[6.00,0.44],[6.11,0.40],[6.23,0.36],[6.04,0.31],[6.14,0.27],[5.96,0.22],[6.07,0.17],[6.19,0.12],[6.01,0.07],[6.12,0.02],[6.24,-0.03],[6.05,-0.08],[6.16,-0.13],[5.99,-0.18],[6.09,-0.23],[6.21,-0.28],[6.02,-0.33],[6.13,-0.38],[6.24,-0.43],[6.06,-0.48],[6.17,-0.53],[6.00,-0.58],[6.10,-0.63],[6.15,0.59],[6.20,-0.18],
[6.27,0.65],[6.51,-0.57],[6.30,0.60],[6.41,0.56],[6.52,0.52],[6.33,0.47],[6.45,0.43],[6.26,0.39],[6.37,0.35],[6.48,0.30],[6.29,0.26],[6.40,0.21],[6.53,0.16],[6.34,0.11],[6.46,0.06],[6.27,0.01],[6.38,-0.04],[6.49,-0.09],[6.31,-0.14],[6.43,-0.19],[6.54,-0.24],[6.35,-0.29],[6.47,-0.34],[6.28,-0.39],[6.39,-0.44],[6.50,-0.49],[6.32,-0.54],[6.44,-0.60],[6.36,0.52],[6.42,-0.02],
[6.61,-0.64],[6.57,0.63],[6.69,0.58],[6.80,0.54],[6.60,0.49],[6.72,0.45],[6.83,0.41],[6.63,0.36],[6.75,0.32],[6.56,0.27],[6.67,0.23],[6.79,0.18],[6.59,0.13],[6.71,0.08],[6.82,0.03],[6.62,-0.02],[6.74,-0.07],[6.57,-0.12],[6.68,-0.17],[6.80,-0.22],[6.61,-0.27],[6.73,-0.32],[6.84,-0.37],[6.65,-0.42],[6.77,-0.47],[6.58,-0.52],[6.70,-0.57],[6.81,-0.61],[6.66,0.39],[6.76,-0.10],
[7.08,0.72],[7.12,0.66],[7.09,-0.68],[6.88,0.61],[7.00,0.57],[7.11,0.52],[6.91,0.47],[7.03,0.42],[7.14,0.37],[6.94,0.31],[7.06,0.26],[6.87,0.20],[6.98,0.14],[7.10,0.08],[6.92,0.02],[7.04,-0.04],[6.86,-0.10],[6.97,-0.16],[7.09,-0.22],[6.90,-0.28],[7.02,-0.34],[7.13,-0.40],[6.95,-0.45],[7.07,-0.50],[6.89,-0.55],[7.01,-0.60],[6.99,0.36],
[7.44,-0.48],[7.18,0.63],[7.30,0.58],[7.42,0.52],[7.22,0.46],[7.34,0.40],[7.17,0.33],[7.28,0.26],[7.40,0.19],[7.21,0.12],[7.33,0.05],[7.16,-0.02],[7.27,-0.09],[7.39,-0.16],[7.24,-0.23],[7.36,-0.30],[7.19,-0.37],[7.31,-0.43],[7.26,-0.52],[7.38,-0.58],[7.23,0.50],[7.35,-0.05],
[7.57,-0.66],[7.54,0.74],[7.68,0.65],[7.71,-0.34],[7.47,-0.54],[7.49,0.55],[7.60,0.44],[7.72,0.36],[7.52,0.28],[7.63,0.19],[7.48,0.10],[7.58,0.01],[7.69,-0.07],[7.51,-0.15],[7.62,-0.24],[7.46,-0.31],[7.56,-0.41],[7.66,-0.47],[7.74,0.24],[7.59,0.60],
[7.76,0.49],[7.80,0.46],[7.88,0.38],[7.88,-0.09],[8.23,-0.04],[8.50,0.39],[8.36,0.20],[8.50,-0.10],[8.19,-0.23],[8.02,-0.35],[8.28,-0.42],[8.16,-0.48],[7.87,-0.41],[7.88,-0.57],[8.21,-0.61],[8.47,-0.61],[8.63,-0.67],[8.28,-0.68],[8.71,-0.48],[8.95,-0.57],[9.05,-0.57],[9.26,-0.49],[9.51,-0.18],[9.88,-0.54],[7.84,0.15],[7.95,-0.22],[8.06,0.05],[7.79,0.27],
[5.72,0.52],[5.84,0.47],[5.70,0.38],[5.86,0.34],[5.76,0.27],[5.91,0.21],[5.69,0.15],[5.81,0.10],[5.74,0.00],[5.89,-0.04],[5.71,-0.16],[5.84,-0.20],[5.77,-0.30],[5.92,-0.35],[5.70,-0.41],[5.82,-0.46],
[6.02,0.66],[6.13,0.56],[6.04,0.49],[6.19,0.43],[5.99,0.38],[6.10,0.33],[6.21,0.26],[6.03,0.20],[6.15,0.15],[5.98,0.10],[6.08,0.05],[6.18,-0.01],[6.02,-0.06],[6.13,-0.10],[6.22,-0.15],[6.06,-0.21],[6.17,-0.26],[5.99,-0.31],[6.11,-0.35],[6.20,-0.41],[6.04,-0.45],[6.14,-0.50],[6.08,-0.56],
[6.34,0.62],[6.47,0.58],[6.30,0.50],[6.42,0.45],[6.51,0.40],[6.32,0.33],[6.45,0.28],[6.28,0.24],[6.38,0.19],[6.50,0.13],[6.31,0.08],[6.43,0.03],[6.28,-0.07],[6.39,-0.11],[6.51,-0.16],[6.33,-0.21],[6.44,-0.27],[6.27,-0.31],[6.37,-0.36],[6.48,-0.41],[6.30,-0.46],[6.42,-0.52],[6.35,-0.58],
[6.60,0.60],[6.73,0.51],[6.63,0.43],[6.77,0.38],[6.58,0.34],[6.70,0.29],[6.81,0.21],[6.62,0.16],[6.74,0.10],[6.57,0.05],[6.68,0.00],[6.79,-0.04],[6.61,-0.09],[6.72,-0.15],[6.58,-0.20],[6.69,-0.25],[6.80,-0.30],[6.62,-0.35],[6.74,-0.40],[6.60,-0.45],[6.71,-0.50],
[6.91,0.58],[7.03,0.48],[6.94,0.40],[7.08,0.33],[6.89,0.24],[7.01,0.17],[6.93,0.05],[7.06,-0.07],[6.89,-0.13],[7.01,-0.25],[6.94,-0.37],[7.05,-0.47],[7.20,0.58],[7.32,0.43],[7.24,0.16],[7.19,-0.20],[7.34,-0.33],[7.28,-0.45]
];

// ---- fitted regression lines: [x, fitted] at both ends ----
const th1Fit = [[4.99, 0.156], [9.86, -0.253]];
const nkFit = [[5.00, 0.189], [9.855, -0.299]];
const tfhFit = [[4.99, 0.196], [9.86, -0.299]];
const actBFit = [[5.00, 0.235], [9.88, -0.408]];
const immBFit = [[5.00, 0.311], [9.825, -0.514]];
const actCD4Fit = [[5.00, -0.209], [9.78, 0.441]];
const th17Fit = [[5.00, 0.141], [9.856, -0.206]];
const temCD8Fit = [[4.945, 0.235], [9.876, -0.429]];

// ---- 95% confidence bands: [x, lower, upper] ----
const th1Band = [[4.99,0.097,0.215],[5.5,0.075,0.151],[6,0.055,0.092],[6.5,0.010,0.048],[7,-0.035,0.011],[7.5,-0.086,-0.024],[8,-0.142,-0.059],[8.5,-0.196,-0.082],[9,-0.248,-0.105],[9.5,-0.305,-0.127],[9.86,-0.350,-0.152]];
const nkBand = [[5.00,0.138,0.237],[5.5,0.103,0.175],[6,0.064,0.112],[6.5,0.021,0.055],[7,-0.030,0.006],[7.5,-0.089,-0.035],[8,-0.150,-0.072],[8.5,-0.214,-0.112],[9,-0.278,-0.150],[9.5,-0.345,-0.181],[9.855,-0.390,-0.201]];
const tfhBand = [[4.99,0.132,0.258],[5.5,0.099,0.189],[6,0.065,0.122],[6.5,0.022,0.064],[7,-0.030,0.014],[7.5,-0.091,-0.027],[8,-0.156,-0.061],[8.5,-0.223,-0.099],[9,-0.290,-0.135],[9.5,-0.357,-0.167],[9.86,-0.394,-0.175]];
const actBBand = [[5.00,0.145,0.325],[5.5,0.107,0.231],[6,0.066,0.143],[6.5,0.007,0.067],[7,-0.064,0.006],[7.5,-0.143,-0.047],[8,-0.231,-0.092],[8.5,-0.324,-0.128],[9,-0.420,-0.165],[9.5,-0.508,-0.208],[9.88,-0.578,-0.238]];
const immBBand = [[5.00,0.225,0.397],[5.5,0.163,0.289],[6,0.099,0.184],[6.5,0.019,0.091],[7,-0.071,0.009],[7.5,-0.167,-0.067],[8,-0.271,-0.142],[8.5,-0.383,-0.193],[9,-0.507,-0.248],[9.5,-0.604,-0.314],[9.825,-0.672,-0.358]];
const actCD4Band = [[5.00,-0.284,-0.133],[5.5,-0.194,-0.088],[6,-0.109,-0.038],[6.5,-0.032,0.022],[7,0.038,0.088],[7.5,0.095,0.167],[8,0.147,0.254],[8.5,0.191,0.343],[9,0.240,0.435],[9.5,0.278,0.528],[9.78,0.301,0.578]];
const th17Band = [[5.00,0.090,0.186],[5.5,0.074,0.136],[6,0.053,0.087],[6.5,0.021,0.047],[7,-0.016,0.012],[7.5,-0.059,-0.017],[8,-0.104,-0.041],[8.5,-0.154,-0.064],[9,-0.203,-0.084],[9.5,-0.252,-0.110],[9.856,-0.285,-0.126]];
const temCD8Band = [[4.945,0.159,0.304],[5.5,0.108,0.212],[6,0.059,0.131],[6.5,-0.005,0.057],[7,-0.077,-0.007],[7.5,-0.149,-0.069],[8,-0.232,-0.128],[8.5,-0.324,-0.164],[9,-0.419,-0.201],[9.5,-0.501,-0.257],[9.876,-0.547,-0.284]];

// ---- page layout of the eight panels (pixel boxes and axis extents) ----
const layout = [
  { left: 87.7,  top: 35,     width: 265,   height: 253.5, xMin: 4.768, xMax: 10.074, yMin: -0.584, yMax: 0.571, titleX: 220,   titleY: 20,     yNameX: 26.7, tagX: 185 },
  { left: 473.3, top: 33.3,   width: 257.4, height: 250.7, xMin: 4.764, xMax: 10.097, yMin: -0.640, yMax: 0.651, titleX: 600,   titleY: 19,     yNameX: 397,  tagX: 556 },
  { left: 91.7,  top: 464.7,  width: 261,   height: 250,   xMin: 4.764, xMax: 10.081, yMin: -0.745, yMax: 0.694, titleX: 221,   titleY: 446.5,  yNameX: 18.5, tagX: 185 },
  { left: 466.3, top: 464.7,  width: 265.4, height: 252.3, xMin: 4.743, xMax: 10.136, yMin: -0.837, yMax: 0.999, titleX: 599.5, titleY: 448,    yNameX: 397,  tagX: 556 },
  { left: 99.3,  top: 895,    width: 254,   height: 242.7, xMin: 4.761, xMax: 10.09,  yMin: -0.819, yMax: 0.902, titleX: 226.5, titleY: 878.5,  yNameX: 33,   tagX: 185 },
  { left: 464.7, top: 896.7,  width: 247,   height: 235.6, xMin: 4.798, xMax: 10.0,   yMin: -0.827, yMax: 0.849, titleX: 590,   titleY: 878.5,  yNameX: 397,  tagX: 556 },
  { left: 95,    top: 1318,   width: 258.3, height: 246,   xMin: 4.773, xMax: 10.094, yMin: -0.614, yMax: 0.642, titleX: 226.5, titleY: 1294.7, yNameX: 21.7, tagX: 185 },
  { left: 469,   top: 1313.3, width: 261.7, height: 250.7, xMin: 4.726, xMax: 10.117, yMin: -0.747, yMax: 0.815, titleX: 602.5, titleY: 1294.7, yNameX: 396,  tagX: 557 }
];

const panels = [
  { points: th1Points,    fit: th1Fit,    band: th1Band,    yTicks: th1YTicks },
  { points: nkPoints,     fit: nkFit,     band: nkBand,     yTicks: nkYTicks },
  { points: tfhPoints,    fit: tfhFit,    band: tfhBand,    yTicks: tfhYTicks },
  { points: actBPoints,   fit: actBFit,   band: actBBand,   yTicks: actBYTicks },
  { points: immBPoints,   fit: immBFit,   band: immBBand,   yTicks: immBYTicks },
  { points: actCD4Points, fit: actCD4Fit, band: actCD4Band, yTicks: actCD4YTicks },
  { points: th17Points,   fit: th17Fit,   band: th17Band,   yTicks: th17YTicks },
  { points: temCD8Points, fit: temCD8Fit, band: temCD8Band, yTicks: temCD8YTicks }
];

// ---- styles ----
const FONT = '"Liberation Serif", "Times New Roman", serif';
const TEXT = '#1b1b1b';
const AXIS = '#2a2a2a';
const DOT = '#d3df00';
const LINE = '#4254bd';
const BAND = 'rgba(153,153,153,0.4)';
const FS = 21;

const fmtY = v => (v < 0 ? '–' : '') + Math.abs(v).toFixed(1);

const grid = [], xAxis = [], yAxis = [], series = [], graphic = [];

panels.forEach((p, i) => {
  const L = layout[i];
  grid.push({
    left: L.left, top: L.top, width: L.width, height: L.height,
    show: true, borderColor: AXIS, borderWidth: 1.2, backgroundColor: 'transparent'
  });
  xAxis.push({
    type: 'value', gridIndex: i, min: L.xMin, max: L.xMax, position: 'bottom',
    axisLine: { show: true, onZero: false, lineStyle: { color: AXIS, width: 1.2 } },
    splitLine: { show: false },
    axisTick: { show: true, inside: false, customValues: xTicks, length: 6, lineStyle: { color: AXIS, width: 1.5 } },
    axisLabel: { customValues: xTicks, margin: 13, fontSize: FS, fontFamily: FONT, color: TEXT,
                 formatter: v => String(v) }
  });
  yAxis.push({
    type: 'value', gridIndex: i, min: L.yMin, max: L.yMax, position: 'left',
    axisLine: { show: true, onZero: false, lineStyle: { color: AXIS, width: 1.2 } },
    splitLine: { show: false },
    axisTick: { show: true, inside: false, customValues: p.yTicks, length: 6, lineStyle: { color: AXIS, width: 1.5 } },
    axisLabel: { customValues: p.yTicks, margin: 11, fontSize: FS, fontFamily: FONT, color: TEXT,
                 formatter: fmtY }
  });

  // sample points
  series.push({
    type: 'scatter', xAxisIndex: i, yAxisIndex: i, data: p.points,
    symbol: 'circle', symbolSize: 4.6, itemStyle: { color: DOT }, z: 2, silent: true
  });

  // confidence band drawn as one polygon through the axis scales
  const band = p.band;
  series.push({
    type: 'custom', xAxisIndex: i, yAxisIndex: i, z: 3, silent: true,
    data: [[band[0][0], band[0][1]]],
    renderItem: (params, api) => {
      const upper = band.map(r => api.coord([r[0], r[2]]));
      const lower = band.slice().reverse().map(r => api.coord([r[0], r[1]]));
      return { type: 'polygon', shape: { points: upper.concat(lower) },
               style: { fill: BAND, stroke: null } };
    }
  });

  // regression line
  series.push({
    type: 'line', xAxisIndex: i, yAxisIndex: i, data: p.fit, z: 4, silent: true,
    showSymbol: false, lineStyle: { color: LINE, width: 2 }
  });

  const cx = L.left + L.width / 2;
  const bottom = L.top + L.height;
  const baseStyle = { fontFamily: FONT, fontSize: FS, fill: TEXT, align: 'center', verticalAlign: 'middle' };

  graphic.push({ type: 'text', x: L.titleX, y: L.titleY, style: Object.assign({ text: sampleTitle }, baseStyle) });
  graphic.push({ type: 'text', x: L.yNameX, y: L.top + L.height / 2, rotation: Math.PI / 2,
                 style: Object.assign({ text: yNames[i] }, baseStyle) });
  graphic.push({ type: 'text', x: cx, y: bottom + 57, style: Object.assign({ text: xAxisName }, baseStyle) });
  graphic.push({ type: 'text', x: cx, y: bottom + 82,
    style: {
      text: '{n|rho = ' + rhoValues[i] + ', }{i|P}{n| = ' + pMantissa[i] + '}{i|e}{n|' + pExponent[i] + '}',
      rich: {
        n: { fontFamily: FONT, fontSize: FS, fill: TEXT },
        i: { fontFamily: FONT, fontSize: FS, fontStyle: 'italic', fill: TEXT }
      },
      align: 'center', verticalAlign: 'middle'
    }
  });
  graphic.push({ type: 'text', x: L.tagX, y: bottom + 121.5, style: Object.assign({ text: panelTags[i] }, baseStyle) });
});

const chart = echarts.init(document.getElementById('chart'), null, { renderer: 'canvas', width: 738, height: 1700 });
chart.setOption({
  backgroundColor: '#ffffff',
  animation: false,
  grid, xAxis, yAxis, series, graphic
});
</script>
</body>
</html>
